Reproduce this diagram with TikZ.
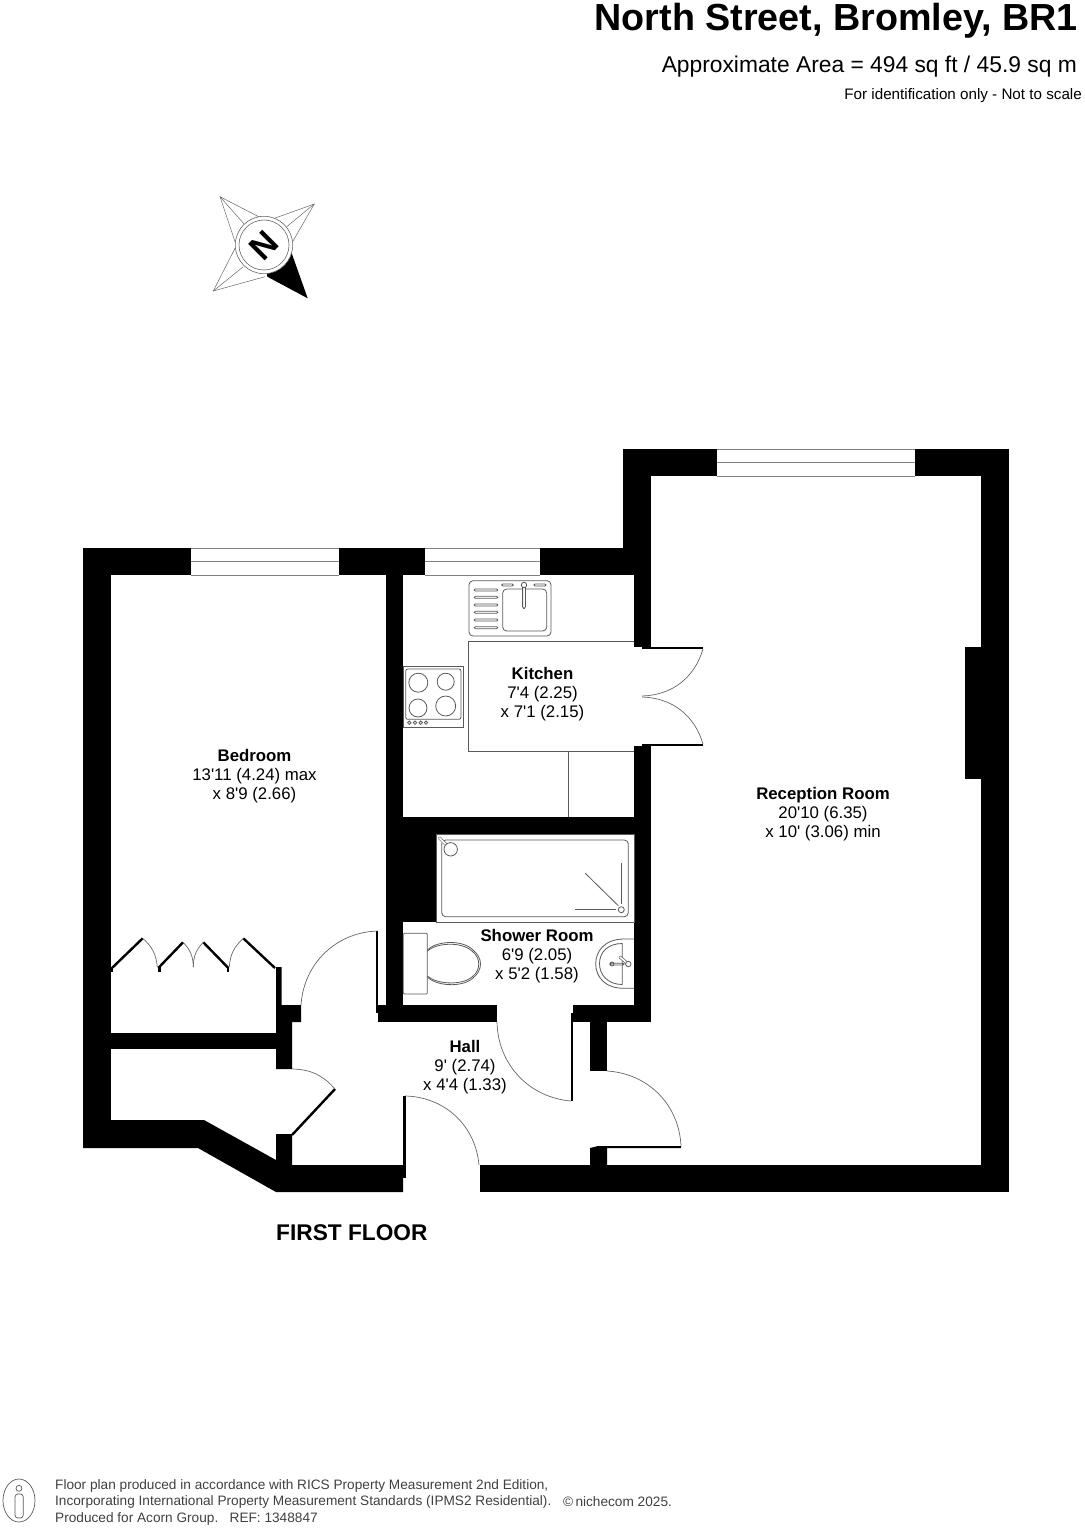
\documentclass[tikz,border=0pt]{standalone}
\usepackage{fontspec}
\setmainfont{Liberation Sans}
\newcommand{\ft}{\textquotesingle{}}
\tikzset{
  wall/.style={fill=black},
  leaf/.style={line width=2.4pt,black},
  swing/.style={draw=black!60,line width=.7pt},
  fitting/.style={draw=black!65,line width=.8pt},
  glazing/.style={draw=black!50,line width=.7pt},
  roomname/.style={align=center,inner sep=0pt,font=\fontsize{16.8}{19}\selectfont},
  foottext/.style={anchor=west,inner sep=0pt,text=black!75,font=\fontsize{13.65}{15}\selectfont},
}
\begin{document}
\begin{tikzpicture}[x=1pt,y=-1pt]
\useasboundingbox (0,0) rectangle (1084,1528);
%% Walls
\foreach \xa/\ya/\xb/\yb in {83/548/111/1148, 83/548/191/575, 339/548/425/575, 540/548/651/575,
  386/575/403/1022, 623/449/651/548, 623/449/717/476, 915/449/1009/476, 981/449/1009/1192,
  965/647/981/779, 634/575/651/647, 634/746/651/1022, 386/817/651/834, 386/834/436/922,
  378/1005/497/1022, 573/1005/651/1022, 590/1022/607/1071, 111/1033/276/1049,
  480/1165/1009/1192, 375.7/931/378.3/1013, 570.7/1013/573.3/1101, 403/1096/405.7/1178,
  158.3/967/160.5/972, 226.6/967/229.2/972, 111/967/113/972}
  \fill[wall] (\xa,\ya) rectangle (\xb,\yb);
\fill[wall] (83,1120) -- (204,1120) -- (276,1160) -- (276,1134) -- (292,1134) -- (292,1165)
  -- (403,1165) -- (403,1192) -- (276,1192) -- (198,1148) -- (83,1148) -- cycle;
\fill[wall] (276,967) -- (281.7,967) -- (281.7,1005) -- (301,1005) -- (301,1022) -- (292,1022)
  -- (292,1069) -- (276,1069) -- cycle;
\fill[wall] (590,1165) -- (590,1148) -- (598,1146) -- (681,1146) -- (681,1148) -- (607,1148) -- (607,1165) -- cycle;
\fill[wall] (642,647) -- (703,647) -- (703,649) -- (642,649) -- cycle;
\fill[wall] (642,744) -- (703,744) -- (703,746) -- (642,746) -- cycle;
%% Windows
\foreach \xa/\ya/\xb in {191/548/339, 425/548/540, 717/449/915} {
  \draw[glazing] (\xa,\ya) -- (\xb,\ya);
  \draw[glazing] (\xa,\ya+27) -- (\xb,\ya+27);
  \draw[glazing] (\xa,\ya+13.5) -- (\xb,\ya+13.5);
}
%% Doors
\draw[leaf] (112,968) -- (142.7,938.3);
\draw[leaf] (158.3,968) -- (183,942.3);
\draw[leaf] (203.3,942.3) -- (228.3,968);
\draw[leaf] (243.3,938.3) -- (275,968);
\draw[leaf] (292,1135) -- (335,1089);
\draw[swing,bend left=22] (142.7,938.3) to (157.3,967);
\draw[swing,bend left=22] (183,942.3) to (193.3,967);
\draw[swing,bend right=22] (203.3,942.3) to (193.3,967);
\draw[swing,bend right=22] (243.3,938.3) to (229.3,967);
\draw[swing,bend left=24] (292,1069) to (335,1089);
\draw[swing,bend left=42] (301,1005) to (377,931);
\draw[swing,bend right=42] (497,1022) to (571,1101);
\draw[swing,bend left=42] (607,1071) to (681,1146);
\draw[swing,bend left=42] (405,1096) to (479,1165);
\draw[swing,bend left=36] (703,649) to (642,696);
\draw[swing,bend right=36] (703,744) to (642,697);
%% Kitchen
\draw[fitting] (634,641.3) -- (468.3,641.3) -- (468.3,751.7) -- (634,751.7);
\draw[fitting] (568.3,751.7) -- (568.3,817);
\draw[fitting,rounded corners=4pt] (469,580.7) rectangle (551,636);
\draw[fitting,rounded corners=4pt] (502.7,589) rectangle (546.7,631);
\foreach \yy in {590,597.3,605,612.3,620,627.7}
  \draw[fitting,rounded corners=1pt] (474.3,\yy-1) rectangle (497.7,\yy+1);
\draw[fitting,rounded corners=1pt] (501.7,584) rectangle (513.3,586);
\draw[fitting,rounded corners=1pt] (534,584) rectangle (546,586);
\draw[fitting,fill=white,rounded corners=1.5pt] (522.6,585) rectangle (525.4,608.5);
\draw[fitting,fill=white] (524,585) circle (2.7);
\draw[fitting] (403.3,666) rectangle (463.3,727.3);
\draw[fitting,rounded corners=2pt] (405.7,669) rectangle (461,719.3);
\foreach \xx/\yy/\rr in {418.3/682.7/9.5, 445.7/681.7/8.5, 418/708/9, 445.7/706/10}
  \draw[fitting] (\xx,\yy) circle (\rr);
\foreach \xx in {409.3,415,420.7,426}
  \draw[fitting] (\xx,722.7) circle (1.7);
%% Bathroom
\draw[fitting] (436,834) rectangle (634,922);
\draw[fitting,rounded corners=4pt] (441.7,840) rectangle (628.3,916.7);
\draw[fitting,line width=3pt,line cap=round] (439.5,838) -- (450.7,849.3);
\draw[white,line width=1.8pt,line cap=round] (439.5,838) -- (450.7,849.3);
\draw[fitting,fill=white] (450.7,849.3) circle (6.7);
\draw[fitting] (621.3,909.7) circle (3);
\draw[fitting] (585.3,873.3) -- (618.3,905.7);
\draw[fitting] (621,863.3) -- (621,904.3);
\draw[fitting] (575,909.3) -- (616,909.3);
\draw[fitting,rounded corners=1pt] (403.3,933.3) rectangle (427.3,994);
\draw[fitting] (427.3,950) .. controls (436,941) and (462,939) .. (473,950)
  .. controls (483,958) and (483,970) .. (473,978)
  .. controls (462,988) and (436,986) .. (427.3,977);
\draw[fitting] (427.3,951) .. controls (436,943) and (461,941) .. (472,951)
  .. controls (481,958) and (481,970) .. (472,977)
  .. controls (461,986) and (436,984) .. (427.3,976);
\draw[fitting] (634,939) -- (624,939) .. controls (604,939) and (595.7,952) .. (595.7,963.7)
  .. controls (595.7,976) and (604,988.3) .. (624,988.3) -- (634,988.3);
\draw[fitting] (622.3,943.5) .. controls (608,943.5) and (599.5,952) .. (599.5,963.7)
  .. controls (599.5,975) and (608,984.5) .. (622.3,984.5) -- cycle;
\draw[fitting,rounded corners=1pt] (610,963.2) rectangle (624,965);
\draw[fitting] (612,964) circle (2);
\draw[fitting,line width=3pt,line cap=round] (620,957) -- (628,964);
\draw[white,line width=1.6pt,line cap=round] (620,957) -- (628,964);
\draw[fitting,fill=white] (628.3,964) circle (2.7);
%% Compass
\fill[black] (264,245) -- (291.7,253.3) -- (307.7,298.3) -- (267.3,276.7) -- cycle;
\foreach \xx/\yy/\xa/\ya/\xb/\yb/\xc/\yc in {
  220/196.7/261.7/218.3/245/225/235/241.7,
  314.3/204/271.7/219.3/286.7/226.7/291.7/243.3,
  213.3/291/235/248.3/243.3/266.7/265/276.7} {
  \draw[black!60,line width=.5pt] (\xa,\ya) -- (\xx,\yy) -- (\xc,\yc);
  \draw[black!60,line width=.5pt] (\xb,\yb) -- (\xx,\yy);
}
\draw[black!60,line width=.6pt,fill=white] (264,245) circle (28.7);
\draw[black!60,line width=.6pt] (264,245) circle (25);
\node[inner sep=0pt,rotate=45,font=\fontsize{34}{34}\bfseries\selectfont](north) at (264,246) {N};
%% Labels
\node[anchor=east,inner sep=0pt,font=\fontsize{37.7}{40}\bfseries\selectfont](title) at (1078,21) {North Street, Bromley, BR1};
\node[anchor=east,inner sep=0pt,font=\fontsize{22.8}{25}\selectfont](area) at (1077,67) {Approximate Area = 494 sq ft / 45.9 sq m};
\node[anchor=east,inner sep=0pt,font=\fontsize{15.2}{16}\selectfont](scale) at (1082,96) {For identification only - Not to scale};
\node[roomname](bedroom) at (254.5,776.5) {\textbf{Bedroom}\\13\ft11 (4.24) max\\x 8\ft9 (2.66)};
\node[roomname](kitchen) at (542.5,694.5) {\textbf{Kitchen}\\7\ft4 (2.25)\\x 7\ft1 (2.15)};
\node[roomname](reception) at (823,814.5) {\textbf{Reception Room}\\20\ft10 (6.35)\\x 10\ft\ (3.06) min};
\node[roomname](shower) at (537,956.3) {\textbf{Shower Room}\\6\ft9 (2.05)\\x 5\ft2 (1.58)};
\node[roomname](hall) at (465,1067) {\textbf{Hall}\\9\ft\ (2.74)\\x 4\ft4 (1.33)};
\node[anchor=west,inner sep=0pt,font=\fontsize{22.7}{25}\bfseries\selectfont](floor) at (276,1232.5) {FIRST FLOOR};
%% Footer
\draw[black!65,line width=.7pt] (19,1500.5) ellipse (16 and 21.5);
\draw[black!65,line width=.7pt] (19,1488.3) circle (3);
\draw[black!65,line width=.7pt,rounded corners=3pt] (15,1494) rectangle (23.3,1518);
\node[foottext](note1) at (55,1486) {Floor plan produced in accordance with RICS Property Measurement 2nd Edition,};
\node[foottext](note2) at (55,1502) {Incorporating International Property Measurement Standards (IPMS2 Residential).};
\node[foottext](note3) at (55,1518.5) {Produced for Acorn Group.\ \ \ REF:\ 1348847};
\node[foottext](maker) at (563,1502) {©\,nichecom 2025.};
\end{tikzpicture}
\end{document}
